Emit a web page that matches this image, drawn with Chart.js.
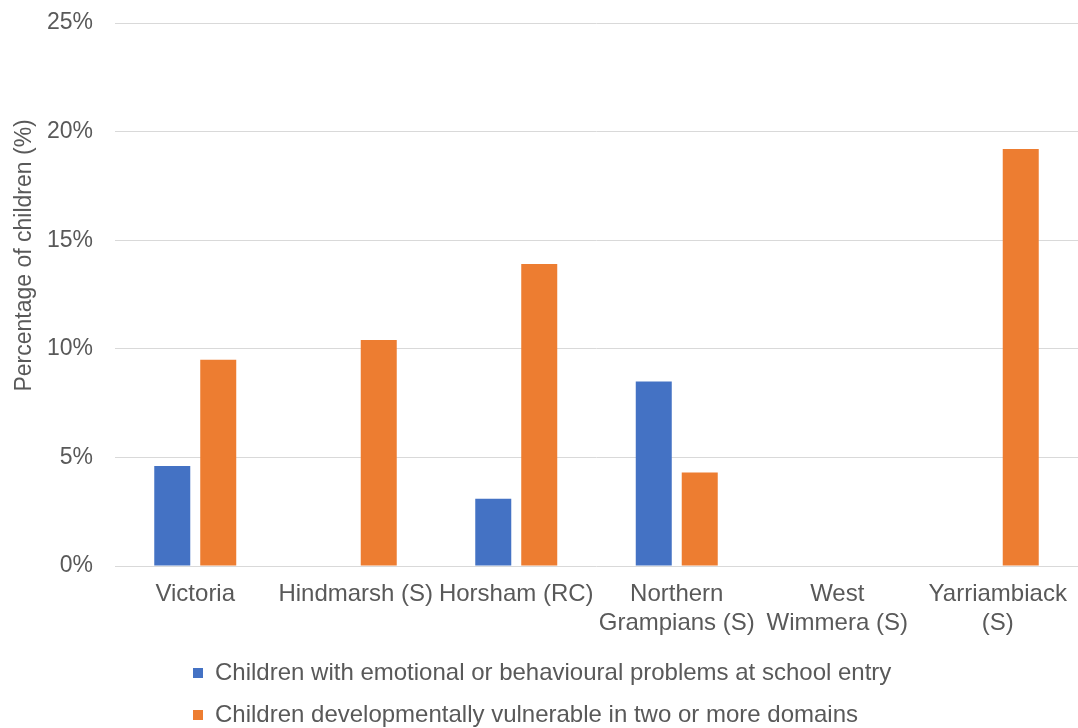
<!DOCTYPE html>
<html>
<head>
<meta charset="utf-8">
<script src="https://cdn.jsdelivr.net/npm/chart.js@4.4.0/dist/chart.umd.min.js"></script>
<style>
  html, body { margin: 0; padding: 0; background: #fff; }
  #wrap { width: 1078px; height: 728px; }
</style>
</head>
<body>
<div id="wrap"><canvas id="myChart"></canvas></div>
<script>
// categories (multi-line ones split like the original)
const areas = [
    "Victoria",
    "Hindmarsh (S)",
    "Horsham (RC)",
    ["Northern", "Grampians (S)"],
    ["West", "Wimmera (S)"],
    ["Yarriambiack", "(S)"]
];

// series values, percent; null = no bar shown
const emotionalProblems = [4.6, null, 3.1, 8.5, null, null];
const vulnerableTwoPlus = [9.5, 10.4, 13.9, 4.3, null, 19.2];

const seriesNames = [
    "Children with emotional or behavioural problems at school entry",
    "Children developmentally vulnerable in two or more domains"
];

const yTicks = [0, 5, 10, 15, 20, 25];
const yTitle = 'Percentage of children (%)';

const textColor = '#595959';
const fontFamily = '"Liberation Sans", Arial, sans-serif';

// y axis title, drawn a bit above the plot centre like the original
const yTitlePlugin = {
    id: 'yTitle',
    afterDraw(chart) {
        const c = chart.ctx;
        const area = chart.chartArea;
        c.save();
        c.font = '23px ' + fontFamily;
        c.fillStyle = textColor;
        c.textAlign = 'center';
        c.textBaseline = 'middle';
        c.translate(25, area.top + (area.bottom - area.top) * 0.428);
        c.rotate(-Math.PI / 2);
        c.fillText(yTitle, 0, 0);
        c.restore();
    }
};

// fixed legend height, rows left aligned under each other
const legendTweak = {
    id: 'legendTweak',
    afterInit(chart) {
        const fit = chart.legend.fit;
        chart.legend.fit = function () {
            fit.call(this);
            this.height = 85;
        };
    },
    afterLayout(chart) {
        const lg = chart.legend;
        const shift = 175;
        lg.left += shift;
        lg.right += shift;
    }
};

const ctx = document.getElementById('myChart').getContext('2d');
const myChart = new Chart(ctx, {
    type: 'bar',
    data: {
        labels: areas,
        datasets: [{
            label: seriesNames[0],
            data: emotionalProblems,
            backgroundColor: '#4472C4',
            borderWidth: 0
        }, {
            label: seriesNames[1],
            data: vulnerableTwoPlus,
            backgroundColor: '#ED7D31',
            borderWidth: 0
        }]
    },
    options: {
        responsive: true,
        maintainAspectRatio: false,
        animation: false,
        categoryPercentage: 0.573,
        barPercentage: 0.783,
        layout: {
            padding: { top: 23, right: 0, left: 0, bottom: 0 }
        },
        scales: {
            x: {
                grid: { display: false, drawTicks: false },
                border: { display: false },
                ticks: {
                    color: textColor,
                    padding: 14,
                    maxRotation: 0,
                    autoSkip: false,
                    font: { family: fontFamily, size: 24 }
                },
                afterFit: (scale) => {
                    scale.height = 77;
                    scale.paddingLeft = 0;
                    scale.paddingRight = 0;
                }
            },
            y: {
                min: yTicks[0],
                max: yTicks[yTicks.length - 1],
                grid: { color: '#D9D9D9', lineWidth: 1, drawTicks: false },
                border: { display: false },
                afterBuildTicks: (scale) => {
                    scale.ticks = yTicks.map(v => ({ value: v }));
                },
                ticks: {
                    color: textColor,
                    padding: 22,
                    font: { family: fontFamily, size: 23 },
                    callback: (v) => v + '%'
                },
                afterFit: (scale) => {
                    scale.width = 115;
                    scale.paddingTop = 0;
                    scale.paddingBottom = 0;
                }
            }
        },
        plugins: {
            legend: {
                display: true,
                position: 'bottom',
                align: 'start',
                labels: {
                    color: textColor,
                    boxWidth: 10,
                    boxHeight: 10,
                    padding: 18,
                    font: { family: fontFamily, size: 24 }
                }
            },
            tooltip: { enabled: false }
        }
    },
    plugins: [yTitlePlugin, legendTweak]
});
</script>
</body>
</html>
